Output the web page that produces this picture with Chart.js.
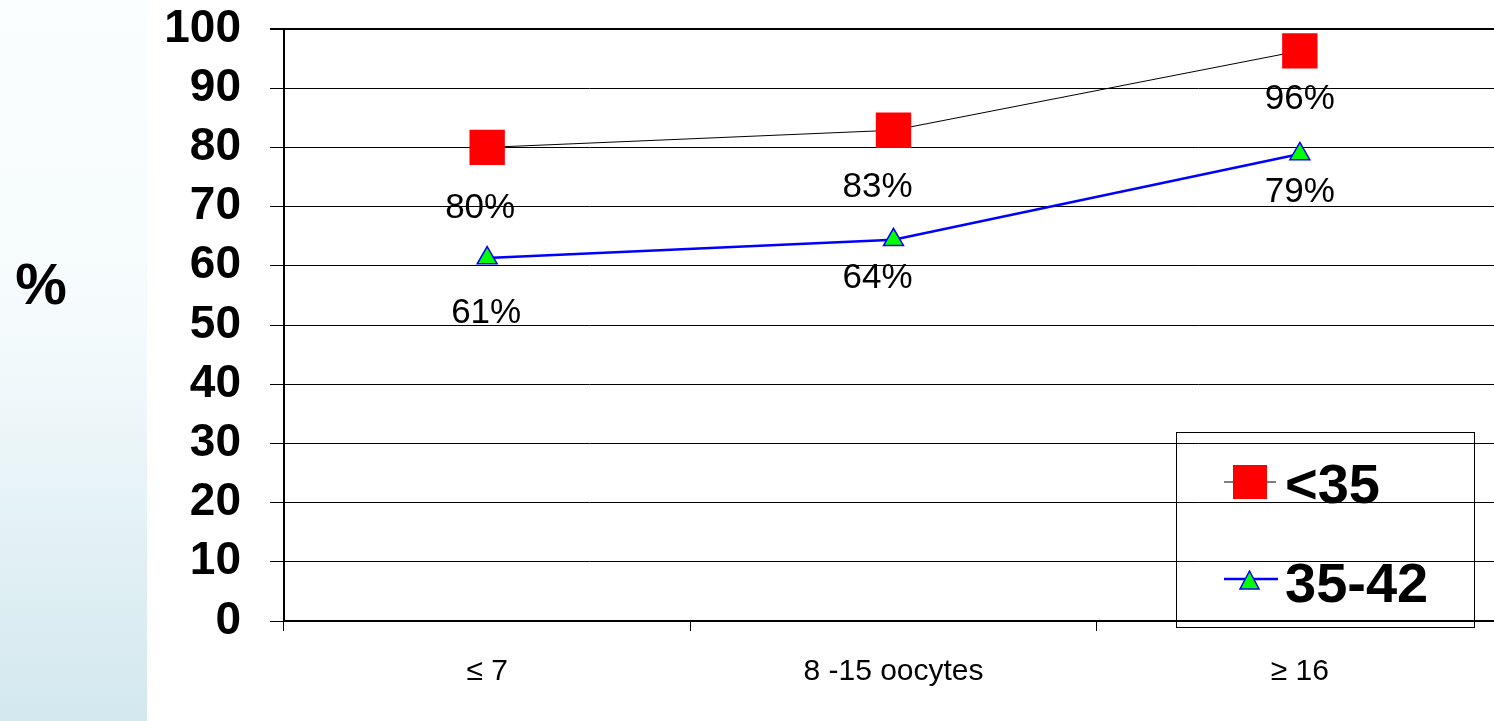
<!DOCTYPE html>
<html>
<head>
<meta charset="utf-8">
<script src="https://cdn.jsdelivr.net/npm/chart.js@4.4.1/dist/chart.umd.min.js"></script>
<style>
    html, body { margin: 0; padding: 0; overflow: hidden; background: #fff; width: 1494px; height: 721px; }
    #strip {
        position: absolute; left: 0; top: 0; width: 147px; height: 721px;
        background: linear-gradient(to bottom, #fbfefe 0%, #f5fbfc 45%, #d3e8ef 100%);
    }
    #wrap { position: absolute; left: 0; top: 0; width: 1528px; height: 721px; }
</style>
</head>
<body>
<div id="strip"></div>
<div id="wrap"><canvas id="oocyteChart" width="1528" height="721"></canvas></div>
<script>
// Data
const categories = ['≤ 7', '8 -15 oocytes', '≥ 16'];
const seriesNames = ['<35', '35-42'];
const under35 = [80.0, 82.9, 96.3];
const from35to42 = [61.3, 64.4, 78.9];
const yMin = 0;
const yMax = 100;
const yStep = 10;

const FONT = "'Liberation Sans', Arial, sans-serif";

/**
 * Value labels, legend box and the "%" title
 */
const decorPlugin = {
    id: 'decor',
    afterDatasetsDraw(chart, args, opts) {
        const ctx = chart.ctx;
        ctx.save();
        ctx.font = '35px ' + FONT;
        ctx.fillStyle = '#000';
        ctx.textAlign = 'center';
        ctx.textBaseline = 'middle';
        chart.data.datasets.forEach((ds, i) => {
            const meta = chart.getDatasetMeta(i);
            meta.data.forEach((pt, j) => {
                const shift = opts.labelShift[i][j];
                ctx.fillText(Math.round(ds.data[j]) + '%', pt.x + shift[0], pt.y + shift[1]);
            });
        });
        ctx.restore();
    },
    afterDraw(chart, args, opts) {
        const ctx = chart.ctx;
        ctx.save();

        // y title, drawn upright
        ctx.font = 'bold 58px ' + FONT;
        ctx.fillStyle = '#000';
        ctx.textAlign = 'center';
        ctx.textBaseline = 'middle';
        ctx.fillText('%', 41, 288);

        // legend box
        const box = opts.legendBox;
        ctx.strokeStyle = '#000';
        ctx.lineWidth = 1;
        ctx.strokeRect(box.x + 0.5, box.y + 0.5, box.w, box.h);

        const sets = chart.data.datasets;
        ctx.font = 'bold 56px ' + FONT;
        ctx.textAlign = 'left';
        ctx.textBaseline = 'alphabetic';

        // entry 1: line + red square
        let y = box.y + 50;
        ctx.strokeStyle = sets[0].borderColor;
        ctx.lineWidth = sets[0].borderWidth;
        ctx.beginPath();
        ctx.moveTo(box.x + 48, y);
        ctx.lineTo(box.x + 100, y);
        ctx.stroke();
        ctx.fillStyle = sets[0].pointBackgroundColor;
        ctx.fillRect(box.x + 57, y - 17, 34, 34);
        ctx.fillStyle = '#000';
        ctx.fillText(seriesNames[0], box.x + 109, y + 21);

        // entry 2: line + green triangle
        y = box.y + 147;
        ctx.strokeStyle = sets[1].borderColor;
        ctx.lineWidth = sets[1].borderWidth;
        ctx.beginPath();
        ctx.moveTo(box.x + 48, y);
        ctx.lineTo(box.x + 102, y);
        ctx.stroke();
        ctx.beginPath();
        ctx.moveTo(box.x + 73.5, y - 8);
        ctx.lineTo(box.x + 83, y + 10);
        ctx.lineTo(box.x + 64, y + 10);
        ctx.closePath();
        ctx.fillStyle = sets[1].pointBackgroundColor;
        ctx.fill();
        ctx.lineWidth = 1.5;
        ctx.strokeStyle = sets[1].pointBorderColor;
        ctx.stroke();
        ctx.fillStyle = '#000';
        ctx.fillText(seriesNames[1], box.x + 109, y + 23);

        ctx.restore();
    }
};

const ctx = document.getElementById('oocyteChart');

new Chart(ctx, {
    type: 'line',
    data: {
        labels: categories,
        datasets: [{
            label: seriesNames[0],
            data: under35,
            borderColor: '#000000',
            borderWidth: 1,
            tension: 0,
            pointStyle: 'rect',
            pointRadius: 25,
            pointBackgroundColor: '#ff0000',
            pointBorderColor: '#ff0000',
            pointBorderWidth: 0
        }, {
            label: seriesNames[1],
            data: from35to42,
            borderColor: '#0000ff',
            borderWidth: 2.5,
            tension: 0,
            pointStyle: 'triangle',
            pointRadius: 11.5,
            pointBackgroundColor: '#00ff00',
            pointBorderColor: '#0000ff',
            pointBorderWidth: 1.5
        }]
    },
    options: {
        responsive: false,
        animation: false,
        events: [],
        layout: {
            padding: { left: 163, top: 29, right: 18, bottom: 31 }
        },
        plugins: {
            legend: { display: false },
            tooltip: { enabled: false },
            decor: {
                labelShift: [
                    [[-7, 61], [-16, 57], [0, 48]],
                    [[-1, 55], [-16, 39], [0, 38]]
                ],
                legendBox: { x: 1176, y: 432, w: 298, h: 195 }
            }
        },
        scales: {
            x: {
                offset: true,
                afterFit: (scale) => {
                    scale.height = 69;
                    scale.paddingLeft = 0;
                    scale.paddingRight = 0;
                },
                grid: {
                    offset: true,
                    drawOnChartArea: false,
                    drawTicks: true,
                    tickLength: 10,
                    color: '#000'
                },
                border: { display: true, color: '#000', width: 2 },
                ticks: {
                    color: '#000',
                    padding: 23,
                    maxRotation: 0,
                    font: { family: FONT, size: 30 }
                }
            },
            y: {
                min: yMin,
                max: yMax,
                afterFit: (scale) => {
                    scale.width = 121;
                    scale.paddingTop = 0;
                    scale.paddingBottom = 0;
                },
                grid: {
                    color: '#000',
                    lineWidth: (c) => (c.tick && c.tick.value === yMax ? 2 : 1),
                    drawTicks: true,
                    tickLength: 14
                },
                border: { display: true, color: '#000', width: 2 },
                ticks: {
                    stepSize: yStep,
                    autoSkip: false,
                    color: '#000',
                    padding: 29,
                    font: { family: FONT, size: 46, weight: 'bold' }
                }
            }
        }
    },
    plugins: [decorPlugin]
});
</script>
</body>
</html>
